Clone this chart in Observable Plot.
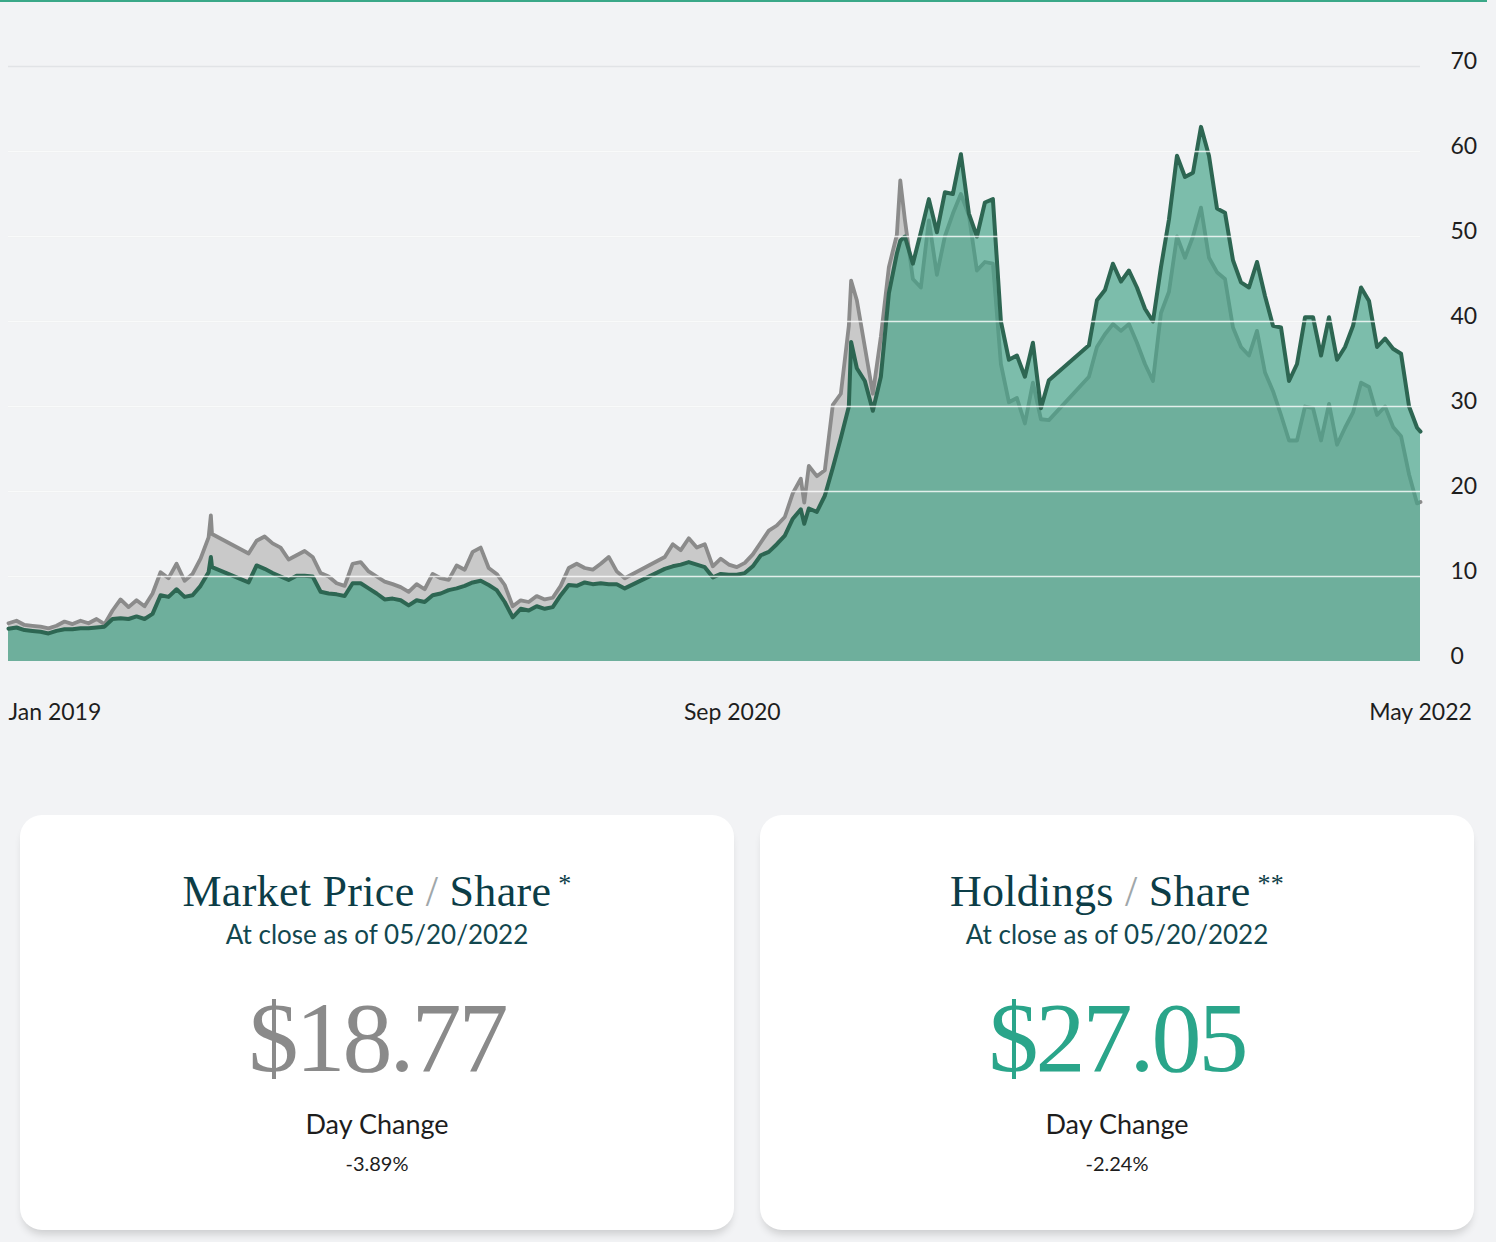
<!DOCTYPE html>
<html>
<head>
<meta charset="utf-8">
<script src="https://cdn.jsdelivr.net/npm/d3@7"></script>
<script src="https://cdn.jsdelivr.net/npm/@observablehq/plot@0.6"></script>
<style>
html,body{margin:0;padding:0;background:#f2f3f5;width:1496px;height:1242px;overflow:hidden;}
#chart{position:absolute;left:0;top:0;width:1496px;}
#topline{position:absolute;left:0;top:0;width:1487px;height:2px;background:#3aa888;}
.card{position:absolute;top:815px;width:714px;height:415px;background:#fff;border-radius:22px;box-shadow:0 7px 9px -3px rgba(0,0,0,0.16);text-align:center;}
.card div{position:absolute;left:0;right:0;white-space:nowrap;}
.title{top:47px;font-family:"Liberation Serif",serif;font-size:44px;line-height:44px;color:#0c3d47;letter-spacing:0.3px;}
.title .sl{color:#a0a7aa;font-weight:normal;}
.title .st{font-size:26px;vertical-align:14px;margin-left:7px;}
.sub{top:106px;font-family:Lato,sans-serif;font-size:26px;line-height:26px;color:#12474f;}
.price{top:173px;font-family:"Liberation Serif",serif;font-size:100px;line-height:100px;letter-spacing:-3px;}
.dc{top:295px;font-family:Lato,sans-serif;font-size:27px;line-height:27px;color:#1d1d1d;}
.pct{top:338px;font-family:Lato,sans-serif;font-size:20px;line-height:20px;color:#1d1d1d;}
</style>
</head>
<body>
<div id="chart"></div>
<div id="topline"></div>
<div class="card" style="left:20px;">
  <div class="title">Market Price <span class="sl">/</span> Share<span class="st">*</span></div>
  <div class="sub">At close as of 05/20/2022</div>
  <div class="price" style="color:#8a8a8a;">$18.77</div>
  <div class="dc">Day Change</div>
  <div class="pct">-3.89%</div>
</div>
<div class="card" style="left:760px;">
  <div class="title">Holdings <span class="sl">/</span> Share<span class="st">**</span></div>
  <div class="sub">At close as of 05/20/2022</div>
  <div class="price" style="color:#2aa58a;">$27.05</div>
  <div class="dc">Day Change</div>
  <div class="pct">-2.24%</div>
</div>
<script>
const dates = [
"2019-01-01","2019-01-08","2019-01-15","2019-01-22","2019-01-29","2019-02-05","2019-02-12","2019-02-19","2019-02-26",
"2019-03-05","2019-03-12","2019-03-19","2019-03-26","2019-04-02","2019-04-09","2019-04-16","2019-04-23","2019-04-30",
"2019-05-07","2019-05-14","2019-05-21","2019-05-28","2019-06-04","2019-06-11","2019-06-18","2019-06-25","2019-06-27","2019-06-28",
"2019-07-30","2019-08-06","2019-08-13","2019-08-20","2019-08-27","2019-09-03","2019-09-10","2019-09-17","2019-09-24",
"2019-10-01","2019-10-08","2019-10-15","2019-10-22","2019-10-29","2019-11-05","2019-11-12","2019-11-19","2019-11-26",
"2019-12-03","2019-12-10","2019-12-17","2019-12-24","2019-12-31",
"2020-01-07","2020-01-14","2020-01-21","2020-01-28","2020-02-04","2020-02-11","2020-02-18","2020-02-25",
"2020-03-03","2020-03-10","2020-03-17","2020-03-24","2020-03-31","2020-04-07","2020-04-14","2020-04-21","2020-04-28",
"2020-05-05","2020-05-12","2020-05-19","2020-05-26","2020-06-02","2020-06-09","2020-06-16","2020-06-23",
"2020-07-28","2020-08-04","2020-08-11","2020-08-18","2020-08-25","2020-09-01","2020-09-08","2020-09-15","2020-09-22","2020-09-29",
"2020-10-06","2020-10-13","2020-10-20","2020-10-27","2020-11-03","2020-11-10","2020-11-17","2020-11-24","2020-11-27",
"2020-12-01","2020-12-08","2020-12-15","2020-12-22","2020-12-29",
"2021-01-05","2021-01-07","2021-01-12","2021-01-19","2021-01-26","2021-02-02","2021-02-09","2021-02-16","2021-02-19","2021-02-23",
"2021-03-02","2021-03-09","2021-03-16","2021-03-23","2021-03-30","2021-04-06","2021-04-13","2021-04-20","2021-04-27",
"2021-05-04","2021-05-11","2021-05-18","2021-05-25","2021-06-01","2021-06-08","2021-06-15","2021-06-22","2021-06-29",
"2021-08-03","2021-08-10","2021-08-17","2021-08-24","2021-08-31","2021-09-07","2021-09-14","2021-09-21","2021-09-28",
"2021-10-05","2021-10-12","2021-10-19","2021-10-26","2021-11-02","2021-11-09","2021-11-16","2021-11-23","2021-11-30",
"2021-12-07","2021-12-14","2021-12-21","2021-12-28",
"2022-01-04","2022-01-11","2022-01-18","2022-01-25","2022-02-01","2022-02-08","2022-02-15","2022-02-22",
"2022-03-01","2022-03-08","2022-03-15","2022-03-22","2022-03-29","2022-04-05","2022-04-12","2022-04-19","2022-04-26",
"2022-05-03","2022-05-10","2022-05-17","2022-05-20"
];
const market = [
4.5,4.8,4.3,4.2,4.1,3.9,4.2,4.7,4.4,
4.8,4.5,5.0,4.4,6.0,7.3,6.4,7.2,6.5,
8.0,10.5,9.8,11.5,9.5,10.3,12.1,14.6,17.2,15.0,
12.7,14.2,14.7,13.9,13.4,12.0,12.5,13.0,12.3,
10.4,10.0,9.2,8.9,11.5,11.7,10.6,10.0,9.4,
9.1,8.75,8.2,9.1,8.5,
10.3,9.8,9.6,11.3,10.8,12.9,13.4,11.0,
10.3,9.0,6.5,7.2,7.0,7.7,7.3,7.5,8.9,
11.0,11.5,11.0,10.8,11.5,12.3,10.6,9.8,
12.3,13.8,13.1,14.5,13.4,13.8,11.2,12.1,11.4,11.1,
11.6,12.6,14.0,15.4,16.0,17.0,19.8,21.5,18.7,
23.0,21.8,22.5,30.2,31.5,
39.5,44.8,42.5,37.0,31.5,38.2,46.4,50.2,56.6,52.0,
45.0,44.0,51.9,45.5,50.0,52.7,55.0,52.5,46.0,
47.0,46.8,35.0,30.5,31.0,28.0,32.8,28.5,28.4,
33.5,37.0,38.5,39.7,38.9,39.7,37.5,35.0,33.0,
41.0,43.5,50.0,47.5,50.0,53.4,47.5,45.8,45.0,
39.3,37.0,36.0,38.9,
34.0,31.8,29.0,26.0,26.0,30.0,29.8,26.0,
30.3,25.5,27.5,29.3,32.8,32.3,29.0,30.0,27.6,
26.5,22.0,18.6,18.77
];
const holdings = [
3.85,4.0,3.7,3.6,3.5,3.3,3.6,3.8,3.8,
3.9,3.9,4.0,4.1,5.0,5.1,5.0,5.3,5.0,
5.6,7.8,7.6,8.5,7.6,7.8,8.9,10.5,12.3,11.1,
9.3,11.3,10.9,10.4,10.0,9.6,10.1,10.1,10.0,
8.2,8.0,7.9,7.7,9.2,9.2,8.6,8.0,7.3,
7.4,7.2,6.6,7.2,7.0,
7.8,8.0,8.4,8.6,8.9,9.3,9.5,9.0,
8.4,7.0,5.2,6.2,6.0,6.5,6.2,6.4,7.8,
9.0,8.9,9.3,9.1,9.2,9.1,9.1,8.6,
10.9,11.2,11.4,11.7,11.4,11.1,9.9,10.3,10.2,10.2,
10.4,11.2,12.5,12.9,13.8,14.8,16.8,17.9,16.2,
18.0,17.6,19.5,22.8,26.3,
30.0,37.6,34.5,33.0,29.5,33.5,43.3,48.0,49.5,50.0,
46.8,50.5,54.4,50.5,55.2,55.0,59.7,52.7,50.0,
54.0,54.4,40.0,35.5,36.0,33.5,37.5,29.8,33.1,
37.2,42.5,43.7,46.8,44.7,46.0,44.0,41.5,40.0,
46.4,52.0,59.5,57.0,57.5,62.9,59.5,53.3,52.8,
47.2,44.6,44.0,47.0,
43.0,39.5,39.3,33.0,35.0,40.5,40.5,36.0,
40.5,35.5,37.0,39.5,44.0,42.4,37.0,38.0,36.8,
36.2,30.0,27.5,27.05
];
const yTicks = [0, 10, 20, 30, 40, 50, 60, 70];
const xLabels = ["Jan 2019", "Sep 2020", "May 2022"];
const xLabelDates = ["2019-01-01", "2020-09-25", "2022-05-20"];

const parse = d3.utcParse("%Y-%m-%d");
const data = dates.map((d, i) => ({date: parse(d), market: market[i], holdings: holdings[i]}));
const labels = xLabels.map((t, i) => ({date: parse(xLabelDates[i]), text: t}));

const chart = Plot.plot({
  width: 1496, height: 741,
  marginLeft: 8, marginRight: 76, marginTop: 66, marginBottom: 80,
  style: {background: "transparent", fontFamily: "Lato, sans-serif", color: "#1e1e1e"},
  x: {type: "utc", domain: [parse(dates[0]), parse(dates[dates.length - 1])], axis: null},
  y: {domain: [0, 70], axis: null},
  marks: [
    Plot.ruleY(yTicks.filter(t => t > 0), {stroke: "#e1e3e6", strokeWidth: 1.3}),
    Plot.areaY(data, {x: "date", y: "market", fill: "#c9c9c9"}),
    Plot.lineY(data, {x: "date", y: "market", stroke: "#8b8b8b", strokeWidth: 3.8, strokeLinejoin: "round"}),
    Plot.areaY(data, {x: "date", y: "holdings", fill: "rgb(66,163,134)", fillOpacity: 0.67}),
    Plot.lineY(data, {x: "date", y: "holdings", stroke: "#2d6652", strokeWidth: 4, strokeLinejoin: "round"}),
    Plot.ruleY(yTicks.filter(t => t > 0 && t < 70), {stroke: "#ffffff", strokeOpacity: 0.8, strokeWidth: 1.5}),
    Plot.axisY(yTicks, {anchor: "right", tickSize: 0, tickPadding: 30, dy: -5, fontSize: 23, fill: "#1e1e1e"}),
    Plot.text(labels.slice(0, 1), {x: "date", text: "text", frameAnchor: "bottom", dy: 58, textAnchor: "start", fontSize: 23, fill: "#1e1e1e"}),
    Plot.text(labels.slice(1), {x: "date", text: "text", frameAnchor: "bottom", dy: 58, textAnchor: "middle", fontSize: 23, fill: "#1e1e1e"})
  ]
});
document.getElementById("chart").appendChild(chart);
</script>
</body>
</html>
